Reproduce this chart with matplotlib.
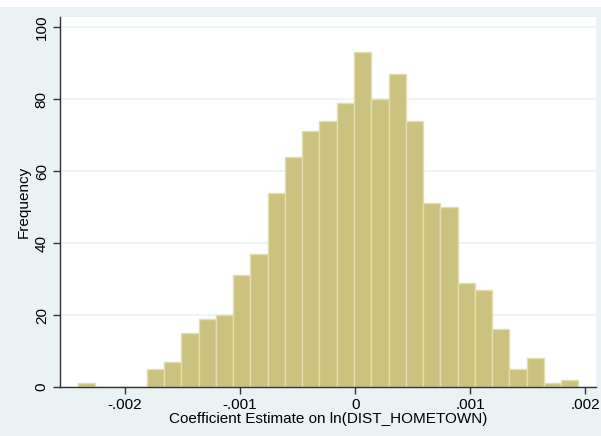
import numpy as np
import matplotlib

matplotlib.use("Agg")
import matplotlib.pyplot as plt

# histogram (29 bins, 1000 draws)
bin_start = -0.00241
bin_width = 0.00015
counts = [1, 0, 0, 0, 5, 7, 15, 19, 20, 31, 37, 54, 64, 71, 74, 79, 93, 80, 87,
          74, 51, 50, 29, 27, 16, 5, 8, 1, 2]

x_ticks = [-0.002, -0.001, 0.0, 0.001, 0.002]
x_tick_labels = ["-.002", "-.001", "0", ".001", ".002"]
y_ticks = [0, 20, 40, 60, 80, 100]

BG = "#eaf2f3"
BAR = "#cbc27f"
BAR_EDGE = "#e4ddb0"

plt.rcParams["font.family"] = ["Liberation Sans", "DejaVu Sans"]

fig = plt.figure(figsize=(6.01, 4.36), dpi=100)
fig.patch.set_facecolor(BG)
# thin white strip along the top edge of the original screenshot
fig.patches.append(plt.Rectangle((0, 0.984), 1, 0.016, transform=fig.transFigure,
                                 facecolor="white", edgecolor="none"))

ax = fig.add_axes([0.0998, 0.1124, 0.8919, 0.8486])
ax.set_facecolor("white")

edges = bin_start + bin_width * np.arange(len(counts))
ax.bar(edges, counts, width=bin_width, align="edge", color=BAR,
       edgecolor=BAR_EDGE, linewidth=1.0, zorder=2)

ax.set_xlim(-0.002565, 0.002093)
ax.set_ylim(0, 102.8)
ax.set_xticks(x_ticks)
ax.set_xticklabels(x_tick_labels)
ax.set_yticks(y_ticks)
ax.set_yticklabels([str(v) for v in y_ticks], rotation=90, va="center")

ax.grid(axis="y", color=BG, linewidth=1.2, zorder=1)
for side in ("top", "right"):
    ax.spines[side].set_visible(False)
for side in ("left", "bottom"):
    ax.spines[side].set_color("#333333")
    ax.spines[side].set_linewidth(1.0)

ax.tick_params(axis="both", colors="#333333", labelcolor="black",
               labelsize=11, length=5, width=1.0, pad=3)
ax.set_xlabel("Coefficient Estimate on ln(DIST_HOMETOWN)", fontsize=11, labelpad=0)
ax.set_ylabel("Frequency", fontsize=11, labelpad=3)

fig.savefig("out.png", dpi=100, facecolor=BG)
